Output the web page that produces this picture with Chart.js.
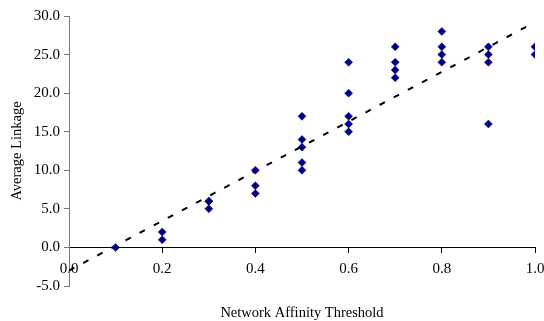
<!DOCTYPE html>
<html lang="en">
<head>
  <meta charset="UTF-8">
  <title>Average Linkage vs Network Affinity Threshold</title>
  <script src="https://cdn.jsdelivr.net/npm/chart.js"></script>
  <style>
    body { margin: 0; background: #fff; }
    #wrap { width: 544px; height: 321px; }
  </style>
</head>
<body>
  <div id="wrap"><canvas id="linkChart" width="544" height="321"></canvas></div>

  <script>
    // Observed points (threshold, average linkage)
    const thresholds = [
      0.1,
      0.2, 0.2,
      0.3, 0.3, 0.3,
      0.4, 0.4, 0.4,
      0.5, 0.5, 0.5, 0.5, 0.5,
      0.6, 0.6, 0.6, 0.6, 0.6,
      0.7, 0.7, 0.7, 0.7,
      0.8, 0.8, 0.8, 0.8,
      0.9, 0.9, 0.9, 0.9,
      1.0, 1.0
    ];
    const linkage = [
      0,
      2, 1,
      6, 6, 5,
      10, 8, 7,
      17, 14, 13, 11, 10,
      24, 20, 17, 16, 15,
      26, 24, 23, 22,
      28, 26, 25, 24,
      26, 25, 24, 16,
      26, 25
    ];

    // Linear trend line end points
    const trendX = [0.0, 1.0];
    const trendY = [-3.0, 29.2];

    const xTicks = [0, 0.2, 0.4, 0.6, 0.8, 1.0];
    const yTicks = [-5, 0, 5, 10, 15, 20, 25, 30];

    const serif = "'Liberation Serif', 'Times New Roman', serif";

    new Chart(document.getElementById('linkChart'), {
      type: 'scatter',
      data: {
        datasets: [
          {
            label: 'Average Linkage',
            data: thresholds.map((x, i) => ({ x: x, y: linkage[i] })),
            pointStyle: 'rectRot',
            pointRadius: 4,
            backgroundColor: '#000080',
            borderColor: '#000080',
            borderWidth: 0.5
          },
          {
            label: 'Trend',
            type: 'line',
            data: trendX.map((x, i) => ({ x: x, y: trendY[i] })),
            borderColor: '#000',
            borderWidth: 2,
            borderDash: [6, 10],
            pointRadius: 0,
            fill: false
          }
        ]
      },
      options: {
        responsive: false,
        animation: false,
        layout: { padding: { top: 16, right: 9, left: 0, bottom: 35 } },
        plugins: {
          legend: { display: false },
          tooltip: { enabled: false }
        },
        scales: {
          x: {
            type: 'linear',
            position: { y: 0 },
            min: 0,
            max: 1.0,
            afterBuildTicks: s => { s.ticks = xTicks.map(v => ({ value: v })); },
            afterFit: s => { s.paddingLeft = 0; s.paddingRight = 0; },
            ticks: {
              color: '#000',
              padding: 8,
              maxRotation: 0,
              font: { family: serif, size: 15 },
              callback: v => v.toFixed(1)
            },
            grid: {
              drawOnChartArea: false,
              drawTicks: true,
              tickLength: 5,
              color: '#000'
            },
            border: { color: '#000', width: 1 },
            title: {
              display: true,
              text: 'Network Affinity Threshold',
              color: '#000',
              font: { family: serif, size: 14.5 },
              padding: { top: 18, bottom: 0 }
            }
          },
          y: {
            type: 'linear',
            min: -5,
            max: 30,
            afterBuildTicks: s => { s.ticks = yTicks.map(v => ({ value: v })); },
            afterFit: s => { s.width = 69; s.paddingTop = 0; s.paddingBottom = 0; },
            ticks: {
              color: '#000',
              padding: 4,
              font: { family: serif, size: 15 },
              callback: v => v.toFixed(1)
            },
            grid: {
              drawOnChartArea: false,
              drawTicks: true,
              tickLength: 5,
              color: '#777'
            },
            border: { color: '#777', width: 1 },
            title: {
              display: true,
              text: 'Average Linkage',
              color: '#000',
              font: { family: serif, size: 14.5 },
              padding: { top: 8, bottom: 0 }
            }
          }
        }
      }
    });
  </script>
</body>
</html>
